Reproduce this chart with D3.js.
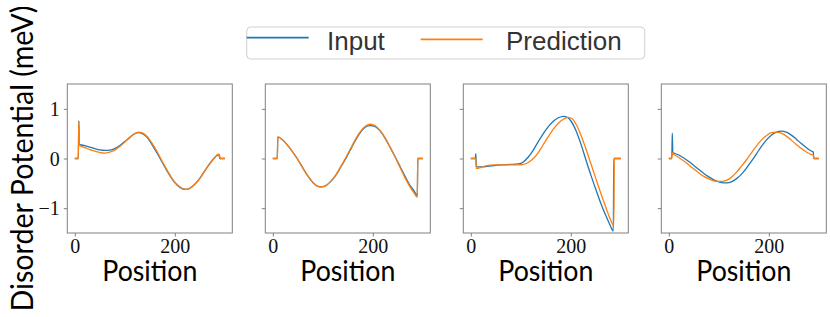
<!DOCTYPE html>
<html>
<head>
<meta charset="utf-8">
<script src="https://cdn.jsdelivr.net/npm/d3@7"></script>
<style>
  body { margin: 0; background: #fff; }
  svg { display: block; }
</style>
</head>
<body>
<svg id="chart" width="830" height="317"></svg>
<script>
// values, [position, potential]
let input1 = [[0,0],[7,0],[8,0.76],[9,0.29],[10,0.28],[20,0.26],[30,0.23],[40,0.2],[50,0.175],[60,0.165],[70,0.17],[80,0.2],[90,0.26],[100,0.34],[110,0.43],[120,0.5],[128,0.52],[135,0.5],[145,0.42],[155,0.27],[165,0.1],[175,-0.08],[185,-0.26],[195,-0.42],[205,-0.54],[215,-0.61],[222,-0.62],[230,-0.6],[240,-0.52],[250,-0.4],[260,-0.25],[270,-0.1],[280,0.02],[288,0.08],[290,0],[300,0]];
let pred1 = [[0,0],[7,0],[8,0.74],[9,0.27],[10,0.26],[20,0.22],[30,0.18],[40,0.15],[50,0.12],[60,0.11],[70,0.13],[80,0.17],[90,0.24],[100,0.33],[110,0.42],[120,0.5],[128,0.53],[136,0.51],[145,0.44],[155,0.3],[165,0.13],[175,-0.06],[185,-0.24],[195,-0.41],[205,-0.53],[215,-0.6],[223,-0.62],[230,-0.6],[240,-0.52],[250,-0.4],[260,-0.25],[270,-0.11],[280,0.02],[287,0.09],[289,0.08],[291,0],[300,0]];

let input2 = [[0,0],[9,0],[10,0.43],[20,0.37],[30,0.26],[40,0.13],[50,-0.02],[60,-0.19],[70,-0.35],[80,-0.48],[90,-0.56],[97,-0.57],[105,-0.55],[115,-0.47],[125,-0.35],[135,-0.19],[145,-0.02],[155,0.17],[165,0.36],[175,0.52],[185,0.63],[195,0.66],[205,0.64],[215,0.55],[225,0.4],[235,0.22],[245,0.03],[255,-0.17],[265,-0.37],[275,-0.55],[283,-0.66],[289,-0.75],[290,0],[300,0]];
let pred2 = [[0,0],[9,0],[10,0.44],[20,0.37],[30,0.26],[40,0.13],[50,-0.02],[60,-0.19],[70,-0.35],[80,-0.48],[90,-0.56],[97,-0.57],[105,-0.55],[115,-0.47],[125,-0.35],[135,-0.18],[145,0.0],[155,0.19],[165,0.38],[175,0.54],[185,0.65],[195,0.69],[205,0.66],[215,0.56],[225,0.41],[235,0.22],[245,0.02],[255,-0.19],[265,-0.4],[275,-0.58],[283,-0.7],[289,-0.78],[290,0],[300,0]];

let input3 = [[0,0],[9,0],[10,0.1],[11,-0.17],[20,-0.17],[40,-0.15],[60,-0.13],[80,-0.12],[95,-0.11],[105,-0.07],[115,0.03],[125,0.17],[135,0.34],[145,0.5],[155,0.64],[165,0.75],[175,0.82],[185,0.85],[193,0.83],[200,0.76],[210,0.57],[220,0.3],[230,-0.02],[240,-0.33],[250,-0.62],[260,-0.9],[270,-1.15],[278,-1.33],[285,-1.46],[286,0],[300,0]];
let pred3 = [[0,0],[9,0],[10,0],[11,-0.2],[20,-0.18],[30,-0.15],[45,-0.13],[60,-0.13],[80,-0.13],[95,-0.13],[105,-0.12],[115,-0.08],[125,0.0],[135,0.12],[145,0.28],[155,0.44],[165,0.59],[175,0.71],[185,0.79],[195,0.83],[203,0.8],[210,0.7],[220,0.48],[230,0.2],[240,-0.1],[250,-0.4],[260,-0.7],[270,-0.98],[278,-1.2],[284,-1.33],[286,-1.35],[287,0],[300,0]];

let input4 = [[0,0],[6,0],[7,0.51],[8,0.12],[10,0.11],[20,0.07],[30,0.01],[40,-0.06],[50,-0.14],[60,-0.22],[70,-0.3],[80,-0.37],[90,-0.43],[100,-0.47],[110,-0.49],[118,-0.49],[125,-0.47],[135,-0.41],[145,-0.32],[155,-0.2],[165,-0.06],[175,0.09],[185,0.24],[195,0.37],[205,0.47],[215,0.53],[225,0.55],[235,0.53],[245,0.47],[255,0.39],[265,0.3],[275,0.22],[285,0.15],[289,0.13],[290,0],[300,0]];
let pred4 = [[0,0],[6,0],[7,0.12],[8,0.09],[10,0.08],[20,0.02],[30,-0.05],[40,-0.13],[50,-0.21],[60,-0.29],[70,-0.36],[80,-0.41],[90,-0.45],[100,-0.46],[108,-0.46],[115,-0.44],[125,-0.38],[135,-0.28],[145,-0.16],[155,-0.03],[165,0.11],[175,0.25],[185,0.37],[195,0.46],[205,0.52],[215,0.53],[225,0.51],[235,0.45],[245,0.37],[255,0.28],[265,0.2],[275,0.13],[285,0.08],[289,0.07],[290,0],[300,0]];

let seriesNames = ["Input", "Prediction"];
let seriesColors = ["#1f77b4", "#ff7f0e"];
let xTicks = [0, 200];
let yTicks = [-1, 0, 1];
let panels = [[input1, pred1], [input2, pred2], [input3, pred3], [input4, pred4]];

const svg = d3.select('#chart');
const spine = '#808080';

const pw = 165, ph = 149, panelTop = 84;
const x = d3.scaleLinear().domain([-15, 315]).range([0, pw]);
const y = d3.scaleLinear().domain([-1.5, 1.5]).range([ph, 0]);

const line = d3.line()
    .x(d => x(d[0]))
    .y(d => y(d[1]))
    .curve(d3.curveMonotoneX);

panels.forEach((pair, i) => {
    let left = 67.3 + 198 * i;
    let g = svg.append('g').attr('transform', `translate(${left},${panelTop})`);

    // axes
    let xa = g.append('g').attr('transform', `translate(0,${ph})`)
        .call(d3.axisBottom(x).tickValues(xTicks).tickSize(3.5).tickPadding(3).tickFormat(d3.format('d')));
    let ya = g.append('g')
        .call(d3.axisLeft(y).tickValues(yTicks).tickSize(3.5).tickPadding(4)
            .tickFormat(d => i === 0 ? (d < 0 ? '\u2212' + Math.abs(d) : d) : ''));
    [xa, ya].forEach(a => {
        a.select('.domain').remove();
        a.selectAll('line').attr('stroke', spine);
        a.selectAll('text').attr('fill', '#111')
            .style('font-family', '"Liberation Serif", serif').style('font-size', '20px');
    });
    xa.selectAll('text').attr('dy', '0.66em');
    ya.selectAll('text').attr('dy', '0.34em');

    pair.forEach((data, k) => {
        g.append('path')
            .datum(data)
            .attr('fill', 'none')
            .attr('stroke', seriesColors[k])
            .attr('stroke-width', 1.3)
            .attr('d', line);
    });

    g.append('rect')
        .attr('width', pw).attr('height', ph)
        .attr('fill', 'none').attr('stroke', spine).attr('stroke-width', 1);

    g.append('text')
        .attr('x', pw / 2).attr('y', 197)
        .attr('text-anchor', 'middle')
        .attr('textLength', 95).attr('lengthAdjust', 'spacingAndGlyphs')
        .style('font-family', 'Lato, sans-serif').style('font-size', '28px')
        .text('Position');
});

// y label
svg.append('text')
    .attr('transform', 'translate(33,158.5) rotate(-90)')
    .attr('text-anchor', 'middle')
    .attr('textLength', 306).attr('lengthAdjust', 'spacingAndGlyphs')
    .style('font-family', 'Lato, sans-serif').style('font-size', '30px')
    .text('Disorder Potential (meV)');

// legend
let legend = svg.append('g');
legend.append('rect')
    .attr('x', 246.7).attr('y', 27).attr('width', 398).attr('height', 32).attr('rx', 4)
    .attr('fill', '#fff').attr('stroke', '#d0d0d0');
let legX = [246.7, 420.7];
let legY = [37.7, 39.3];
let txtX = [327, 506];
seriesNames.forEach((name, k) => {
    legend.append('line')
        .attr('x1', legX[k]).attr('x2', legX[k] + 62)
        .attr('y1', legY[k]).attr('y2', legY[k])
        .attr('stroke', seriesColors[k]).attr('stroke-width', 1.8);
    legend.append('text')
        .attr('x', txtX[k]).attr('y', 49.5)
        .attr('fill', '#333')
        .style('font-family', '"Liberation Sans", Arial, sans-serif').style('font-size', '26px')
        .text(name);
});
</script>
</body>
</html>
